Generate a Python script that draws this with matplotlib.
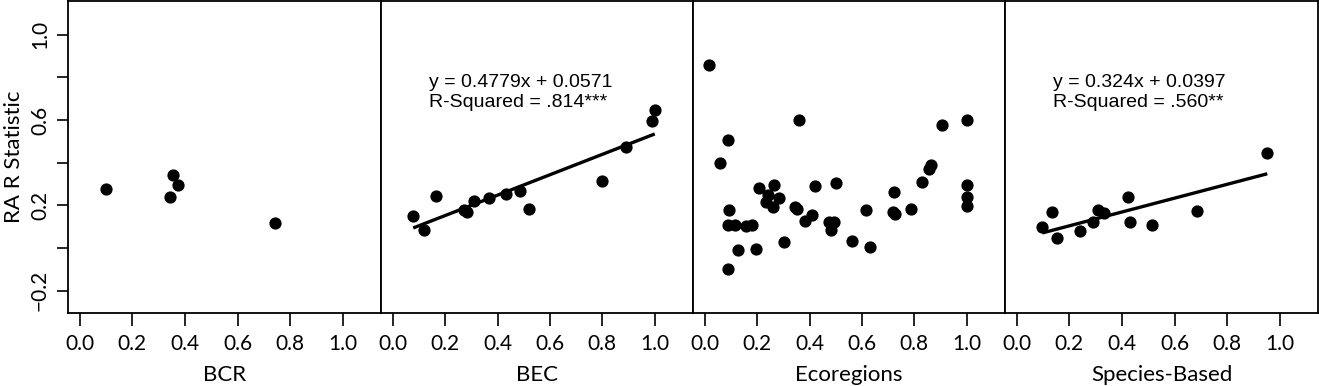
import matplotlib
matplotlib.use("Agg")
import matplotlib.pyplot as plt
import numpy as np

# Data
bcr_x = [0.099, 0.356, 0.375, 0.342, 0.741]
bcr_y = [0.275, 0.344, 0.294, 0.238, 0.118]

bec_x = [0.078, 0.121, 0.165, 0.270, 0.283, 0.310, 0.369, 0.432, 0.487, 0.519,
         0.797, 0.892, 0.991, 1.000]
bec_y = [0.152, 0.087, 0.243, 0.177, 0.168, 0.219, 0.237, 0.252, 0.267, 0.183,
         0.316, 0.476, 0.595, 0.645]

eco_x = [0.015, 0.089, 0.057, 0.358, 0.905, 1.000, 0.862, 0.855, 0.828, 0.723,
         1.000, 1.000, 1.000, 0.787, 0.720, 0.728, 0.614, 0.632, 0.563, 0.501,
         0.419, 0.408, 0.381, 0.346, 0.353, 0.475, 0.492, 0.483, 0.302, 0.266,
         0.283, 0.241, 0.233, 0.261, 0.206, 0.197, 0.125, 0.090, 0.093, 0.089,
         0.114, 0.156, 0.179]
eco_y = [0.858, 0.508, 0.400, 0.601, 0.579, 0.599, 0.389, 0.372, 0.310, 0.261,
         0.297, 0.238, 0.197, 0.183, 0.171, 0.158, 0.177, 0.003, 0.032, 0.305,
         0.293, 0.154, 0.126, 0.193, 0.182, 0.121, 0.121, 0.087, 0.031, 0.297,
         0.233, 0.251, 0.215, 0.191, 0.281, -0.004, -0.007, -0.097, 0.177, 0.107,
         0.107, 0.102, 0.110]

sp_x = [0.097, 0.134, 0.152, 0.242, 0.289, 0.310, 0.330, 0.423, 0.432, 0.514,
        0.687, 0.953]
sp_y = [0.099, 0.168, 0.048, 0.079, 0.124, 0.177, 0.165, 0.240, 0.124, 0.109,
        0.174, 0.448]

panel_names = ["BCR", "BEC", "Ecoregions", "Species-Based"]
# regression fits (slope, intercept) and the text shown, None = no fit
fits = [None, (0.4779, 0.0571), None, (0.324, 0.0397)]
fit_text = [None,
            "y = 0.4779x + 0.0571\nR-Squared = .814***",
            None,
            "y = 0.324x + 0.0397\nR-Squared = .560**"]

x_ticks = [0.0, 0.2, 0.4, 0.6, 0.8, 1.0]
x_tick_labels = ["0.0", "0.2", "0.4", "0.6", "0.8", "1.0"]
y_ticks = [-0.2, 0.0, 0.2, 0.4, 0.6, 0.8, 1.0]
y_tick_labels = ["\u22120.2", "", "0.2", "", "0.6", "", "1.0"]

tick_font = "Lato"
note_font = "Liberation Sans"

fig = plt.figure(figsize=(13.19, 3.86), dpi=100)

xs = [bcr_x, bec_x, eco_x, sp_x]
ys = [bcr_y, bec_y, eco_y, sp_y]
lefts = [68, 381, 693, 1005]
rights = [381, 693, 1005, 1318]

for i in range(4):
    l = lefts[i] / 1319.0
    w = (rights[i] - lefts[i]) / 1319.0
    ax = fig.add_axes([l, 1 - 313 / 386.0, w, 313 / 386.0 - 0.002])
    ax.plot(xs[i], ys[i], "o", color="black", markersize=7.8)
    if fits[i] is not None:
        m, b = fits[i]
        xx = np.array([min(xs[i]), max(xs[i])])
        ax.plot(xx, m * xx + b, color="black", linewidth=2.4, solid_capstyle="butt")
        # text block placed in data units
        ax.text(0.138, 0.730, fit_text[i], fontsize=14, family=note_font,
                va="center", ha="left", linespacing=1.22)
    ax.set_xlim(-0.045, 1.146)
    ax.set_ylim(-0.304, 1.159)
    ax.set_xticks(x_ticks)
    ax.set_xticklabels(x_tick_labels, fontsize=15, family=tick_font)
    ax.tick_params(axis="x", length=9, width=1.2, pad=6)
    ax.set_xlabel(panel_names[i], fontsize=16, family=tick_font, labelpad=8)
    if i == 0:
        ax.set_yticks(y_ticks)
        ax.set_yticklabels(y_tick_labels, fontsize=15, family=tick_font,
                           rotation=90, va="center")
        ax.tick_params(axis="y", length=8, width=1.2, pad=5)
        ax.set_ylabel("RA R Statistic", fontsize=16, family=tick_font, labelpad=4)
    else:
        ax.set_yticks([])
    for s in ax.spines.values():
        s.set_linewidth(1.3)

fig.savefig("out.png", dpi=100)
